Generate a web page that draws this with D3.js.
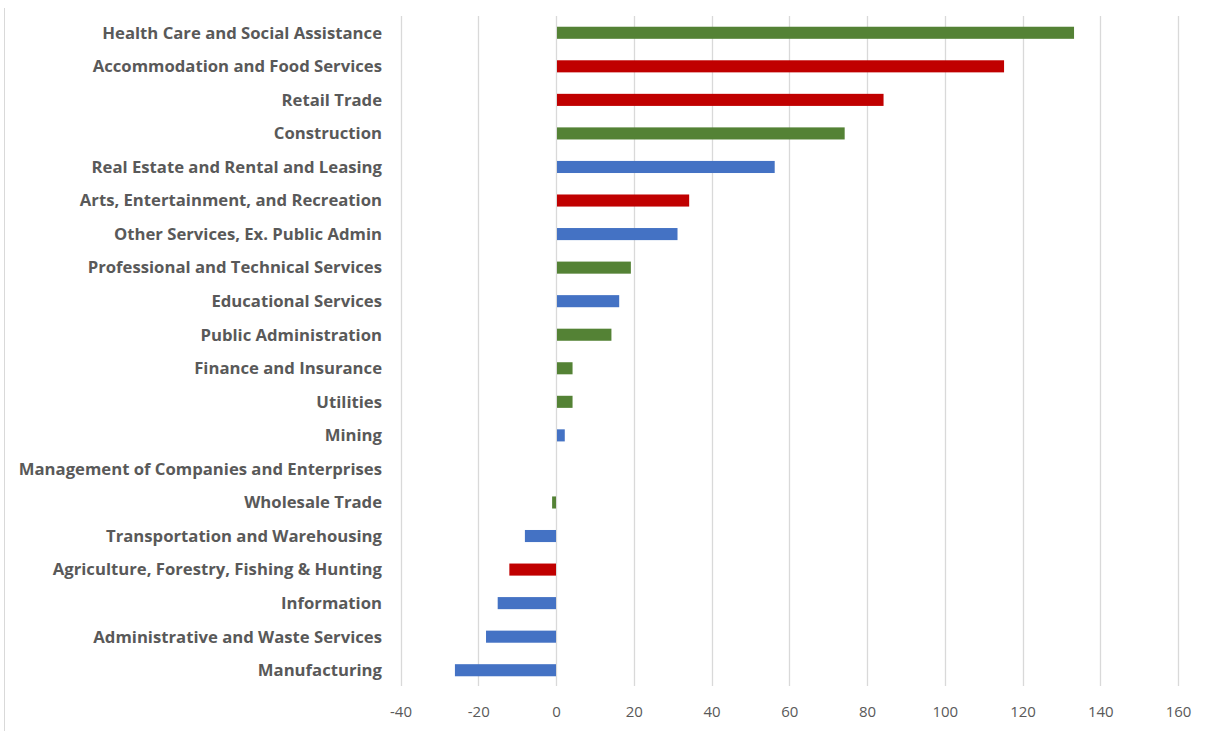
<!DOCTYPE html>
<html><head><meta charset="utf-8">
<script src="https://cdn.jsdelivr.net/npm/d3@7"></script>
<style>body{margin:0;background:#fff;} svg{display:block;}</style>
</head><body>
<svg id="c" width="1207" height="731"></svg>
<script>
const categories = ["Health Care and Social Assistance","Accommodation and Food Services","Retail Trade","Construction","Real Estate and Rental and Leasing","Arts, Entertainment, and Recreation","Other Services, Ex. Public Admin","Professional and Technical Services","Educational Services","Public Administration","Finance and Insurance","Utilities","Mining","Management of Companies and Enterprises","Wholesale Trade","Transportation and Warehousing","Agriculture, Forestry, Fishing & Hunting","Information","Administrative and Waste Services","Manufacturing"];
const values = [133,115,84,74,56,34,31,19,16,14,4,4,2,0,-1,-8,-12,-15,-18,-26];
const groups = ["g","r","r","g","b","r","b","g","b","g","g","g","b","b","g","b","r","b","b","b"];
const groupColors = {g:"#548235", r:"#C00000", b:"#4472C4"};
const xTicks = [-40,-20,0,20,40,60,80,100,120,140,160];

const svg = d3.select("#c");
const x = d3.scaleLinear().domain([-40,160]).range([400.5,1178]);
const y = d3.scaleBand().domain(categories).range([16,687]).padding(0);
const barH = y.bandwidth()*0.36;

// left frame line
svg.append("line").attr("x1",4.5).attr("x2",4.5).attr("y1",8).attr("y2",731).attr("stroke","#d9d9d9").attr("stroke-width",1);

// gridlines
svg.append("g").selectAll("line").data(xTicks).join("line")
  .attr("x1",d=>Math.round(x(d))+0.5).attr("x2",d=>Math.round(x(d))+0.5)
  .attr("y1",16).attr("y2",686).attr("stroke","#d9d9d9").attr("stroke-width",1.3);

// bars
svg.append("g").selectAll("rect").data(categories).join("rect")
  .attr("x",(d,i)=>Math.min(x(0),x(values[i]))+ (values[i]>=0?1:0))
  .attr("width",(d,i)=>Math.abs(x(values[i])-x(0)))
  .attr("y",d=>y(d)+y.bandwidth()/2-barH/2)
  .attr("height",barH)
  .attr("fill",(d,i)=>groupColors[groups[i]]);

// category labels
svg.append("g").selectAll("text").data(categories).join("text")
  .attr("x",382).attr("y",d=>y(d)+y.bandwidth()/2)
  .attr("dy","0.35em").attr("text-anchor","end")
  .attr("font-family","'Open Sans', sans-serif").attr("font-weight","bold")
  .attr("font-size","16.7px").attr("fill","#595959")
  .text(d=>d);

// x axis tick labels
const ax = d3.axisBottom(x).tickValues(xTicks).tickSize(0).tickPadding(0).tickFormat(d=>String(d));
const g = svg.append("g").attr("transform","translate(0,706)").call(ax);
g.select(".domain").remove();
g.selectAll("text").attr("font-family","'Open Sans', sans-serif").attr("font-size","15px").attr("fill","#595959").attr("dy","0.71em");
</script>
</body></html>
